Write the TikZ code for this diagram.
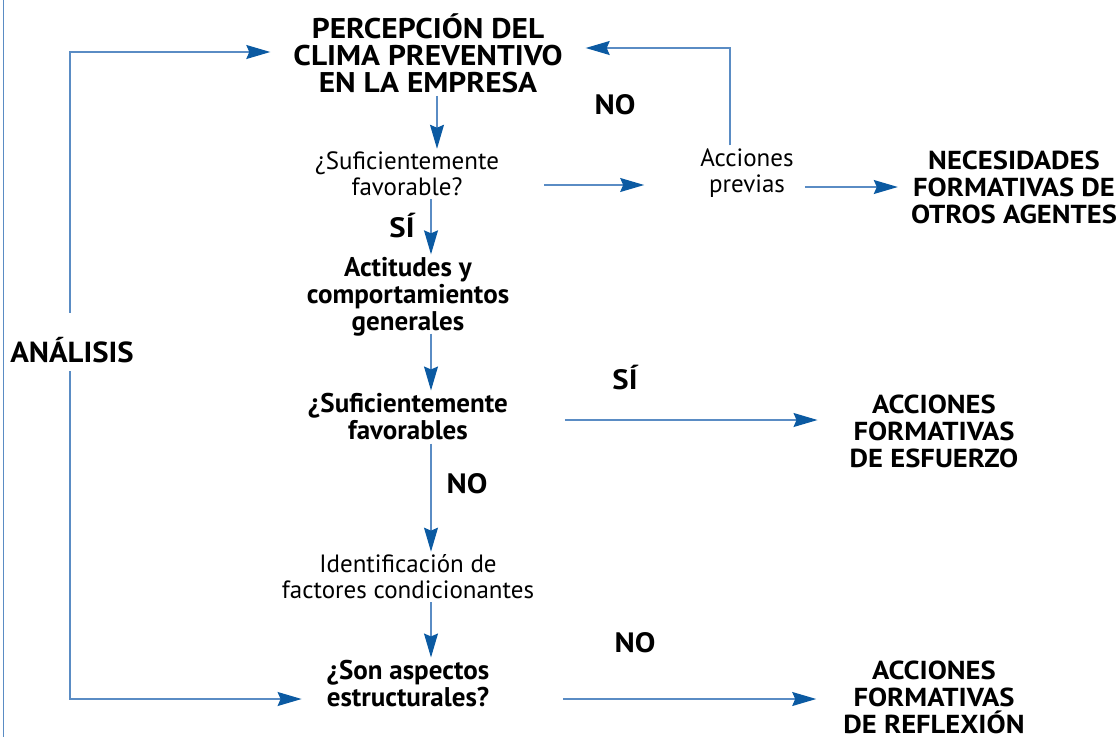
\documentclass[tikz,border=0pt]{standalone}
\usepackage{fontspec}
\setmainfont{PT Sans}
\newfontfamily\anchafont{PT Sans}[FakeStretch=1.1]
\newfontfamily\mediafont{PT Sans}[FakeStretch=1.06]
\usepackage{tikz}
\usetikzlibrary{arrows.meta, positioning, calc}

\definecolor{flujo}{HTML}{5A8CC4}
\definecolor{punta}{HTML}{0B5AA2}

\tikzset{
  titulo/.style={font=\bfseries\fontsize{27}{27}\selectfont, align=center, inner sep=3pt},
  mayus/.style={font=\anchafont\bfseries\fontsize{26}{27}\selectfont, align=center, inner sep=3pt},
  suave/.style={font=\fontsize{25}{26}\selectfont, align=center, inner sep=3pt},
  marca/.style={font=\anchafont\bfseries\fontsize{28}{28}\selectfont, inner sep=1pt},
  flecha/.style={draw=flujo, line width=1.2pt, -{Stealth[length=24pt, width=14pt, inset=3pt, color=punta]}}
}

\begin{document}
\begin{tikzpicture}[x=1pt, y=-1pt]
        \useasboundingbox (0,0) rectangle (1120,737);

        % Left border
        \draw[flujo, line width=1pt] (3,0) -- (3,737);

        % Main column
        \coordinate (colA) at (437,0);
        \coordinate (colB) at (431,0);
        \node[mayus, font=\anchafont\bfseries\fontsize{28.5}{27}\selectfont] (clima) at (428,53) {PERCEPCIÓN DEL\\CLIMA PREVENTIVO\\EN LA EMPRESA};
        \node[suave] (suf1) at (407,174) {¿Suficientemente\\favorable?};
        \node[titulo] (actitudes) at (408,297) {Actitudes y\\comportamientos\\generales};
        \node[titulo] (suf2) at (408,417) {¿Suficientemente\\favorables};
        \node[suave] (ident) at (408,577) {Identificación de\\factores condicionantes};
        \node[titulo] (son) at (408,684) {¿Son aspectos\\estructurales?};

        % Right column
        \node[suave] (previas) at (747,173) {Acciones\\previas};
        \node[mayus] (necesidades) at (1014,187) {NECESIDADES\\FORMATIVAS DE\\OTROS AGENTES};
        \node[mayus] (esfuerzo) at (934,431) {ACCIONES\\FORMATIVAS\\DE ESFUERZO};
        \node[mayus] (reflexion) at (934,697) {ACCIONES\\FORMATIVAS\\DE REFLEXIÓN};

        % Loop label
        \node[mayus, font=\mediafont\bfseries\fontsize{29}{29}\selectfont, fill=white, inner ysep=8pt] (analisis) at (72,350) {ANÁLISIS};

        % Answers
        \node[marca] (no1) at (615,105) {NO};
        \node[marca] (si1) at (402,226) {SÍ};
        \node[marca] (si2) at (625,378) {SÍ};
        \node[marca] (no2) at (467,484) {NO};
        \node[marca] (no3) at (635,643) {NO};

        % Vertical arrows
        \draw[flecha] (clima.south -| colA) -- (suf1.north -| colA);
        \draw[flecha] (suf1.south -| colB) -- (actitudes.north -| colB);
        \draw[flecha, shorten <=-6pt] (actitudes.south -| colB) -- (suf2.north -| colB);
        \draw[flecha] (suf2.south -| colB) -- (ident.north -| colB);
        \draw[flecha] (ident.south -| colB) -- (son.north -| colB);

        % Horizontal arrows
        \draw[flecha, shorten <=42pt, shorten >=53pt] ([yshift=-11pt]suf1.east) -- ([yshift=-12pt]previas.west);
        \draw[flecha, shorten <=8pt, shorten >=10pt] (previas.east |- necesidades) -- (necesidades);
        \draw[flecha, shorten <=54pt, shorten >=29pt] ([yshift=-3pt]suf2.east) -- ([yshift=-3pt]suf2.east -| esfuerzo.west);
        \draw[flecha, shorten <=71pt, shorten >=24pt] ([yshift=-15pt]son.east) -- ([yshift=-15pt]son.east -| reflexion.west);

        % Feedback loops
        \draw[flecha, shorten >=20pt] ([xshift=-17pt]previas.north) |- ([yshift=5pt]clima.east);
        \draw[flecha, shorten <=16pt, shorten >=20pt] ([xshift=-2pt]analisis.north) |- ([yshift=1pt]clima.west);
        \draw[flecha, shorten >=22pt] ([xshift=-2pt]analisis.south) |- ([yshift=-15pt]son.west);
\end{tikzpicture}
\end{document}
